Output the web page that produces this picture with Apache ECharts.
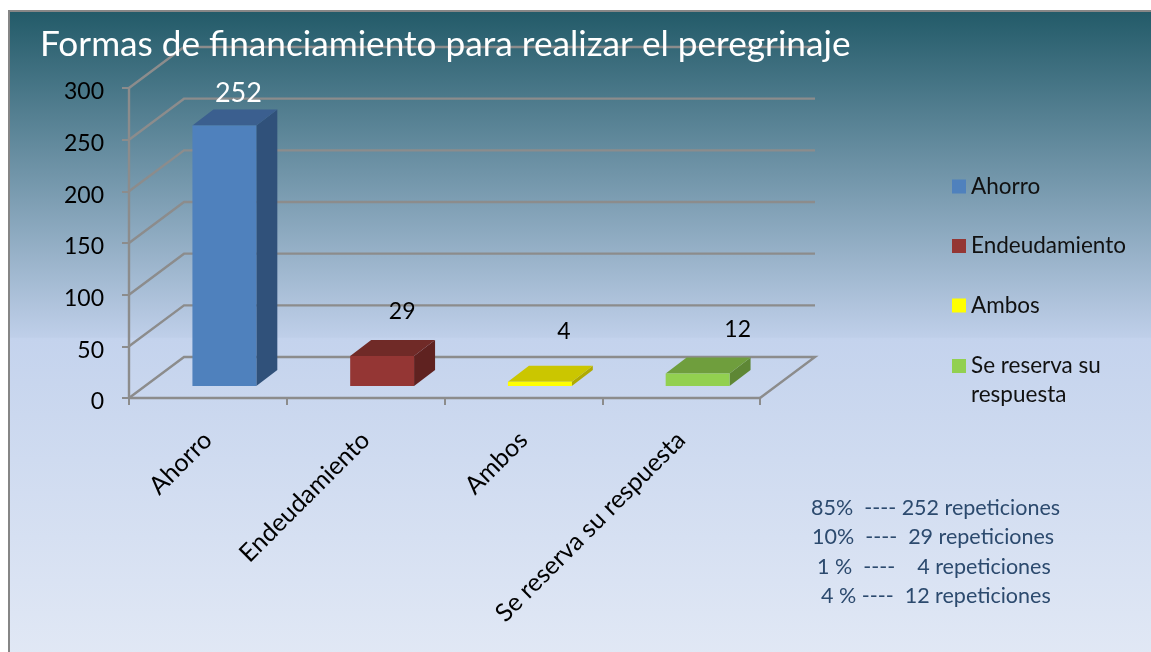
<!DOCTYPE html>
<html>
<head>
<meta charset="utf-8">
<title>Formas de financiamiento</title>
<script src="https://cdn.jsdelivr.net/npm/echarts@6/dist/echarts.min.js"></script>
<style>
html, body { margin: 0; padding: 0; background: #fff; }
#chart { width: 1151px; height: 652px; }
</style>
</head>
<body>
<div id="chart"></div>
<script>
// datos
var categorias = ['Ahorro', 'Endeudamiento', 'Ambos', 'Se reserva su respuesta'];
var valores = [252, 29, 4, 12];
var marcasEje = [0, 50, 100, 150, 200, 250, 300];
var lineasNota = [
    '85%  ---- 252 repeticiones',
    '10%  ----  29 repeticiones',
    '1 %  ----    4 repeticiones',
    '4 % ----  12 repeticiones'
];

// colores de cada barra: frente, tapa, lado
var coloresBarra = [
    ['#4f81bd', '#3b5f8f', '#30517a'],
    ['#943634', '#702a27', '#5f2220'],
    ['#ffff00', '#cbc600', '#b0aa00'],
    ['#92d050', '#6f9e3d', '#5e8735']
];
// ajuste manual de las etiquetas respecto al frente de la barra
var ajusteEtiqueta = [[14, -32], [20, -44], [24, -50], [40, -44]];
var colorEtiqueta = ['#ffffff', '#000000', '#000000', '#000000'];
var xNota = [811, 812, 817, 821];

var fuente = 'Lato, sans-serif';
var colorLinea = '#8c8c8c';
var fondoX = 9, fondoY = 11;
var profX = 55, profY = 41; // fondo de la pared
var barraX = 16.5, barraY = 12; // donde empieza la barra en la profundidad
var ladoX = 21, ladoY = 16; // grosor de la barra

var chart = echarts.init(document.getElementById('chart'));

function dibujaPared(params, api) {
    var valor = api.value(0);
    var c = params.coordSys;
    var y = api.coord([0, valor])[1];
    var puntos = [[c.x, y], [c.x + profX, y - profY], [c.x + c.width + profX, y - profY]];
    if (valor === 0) {
        puntos.push([c.x + c.width, y]);
    }
    return {
        type: 'polyline',
        shape: { points: puntos },
        style: { stroke: colorLinea, lineWidth: 2.4, fill: null }
    };
}

function dibujaBarra(params, api) {
    var i = api.value(0);
    var arriba = api.coord([i, api.value(1)]);
    var base = api.coord([i, 0]);
    var ancho = api.size([1, 0])[0] * 0.405;
    var x1 = arriba[0] + barraX - ancho / 2;
    var x2 = x1 + ancho;
    var y1 = arriba[1] - barraY;
    var y2 = base[1] - barraY;
    var col = coloresBarra[i];
    return {
        type: 'group',
        children: [
            { type: 'polygon', shape: { points: [[x2, y1], [x2 + ladoX, y1 - ladoY], [x2 + ladoX, y2 - ladoY], [x2, y2]] }, style: { fill: col[2] } },
            { type: 'polygon', shape: { points: [[x1, y1], [x1 + ladoX, y1 - ladoY], [x2 + ladoX, y1 - ladoY], [x2, y1]] }, style: { fill: col[1] } },
            { type: 'polygon', shape: { points: [[x1, y1], [x2, y1], [x2, y2], [x1, y2]] }, style: { fill: col[0] } },
            {
                type: 'text',
                style: {
                    text: String(api.value(1)),
                    x: arriba[0] + barraX + ajusteEtiqueta[i][0],
                    y: y1 + ajusteEtiqueta[i][1],
                    align: 'center',
                    verticalAlign: 'middle',
                    fill: colorEtiqueta[i],
                    font: (i === 0 ? 27 : 23) + 'px ' + fuente
                }
            }
        ]
    };
}

var series = [{
    name: 'pared',
    type: 'custom',
    silent: true,
    z: 1,
    renderItem: dibujaPared,
    data: marcasEje.map(function (m) { return [m]; }),
    encode: { y: 0 }
}];

categorias.forEach(function (nombre, i) {
    series.push({
        name: nombre,
        type: 'custom',
        z: 3,
        itemStyle: { color: coloresBarra[i][0] },
        renderItem: dibujaBarra,
        data: [[i, valores[i]]],
        encode: { x: 0, y: 1 }
    });
});

var notas = lineasNota.map(function (t, i) {
    return {
        type: 'text',
        z: 5,
        style: {
            text: t,
            x: xNota[i],
            y: 508 + i * 29.3,
            verticalAlign: 'middle',
            fill: '#2c4a6e',
            font: '21.5px ' + fuente
        }
    };
});

var option = {
    animation: false,
    title: {
        text: 'Formas de financiamiento para realizar el peregrinaje',
        left: 40,
        top: 27,
        padding: 0,
        textStyle: { color: '#fff', fontFamily: fuente, fontWeight: 'normal', fontSize: 35.2 }
    },
    grid: { left: 129, top: 88, width: 631, height: 310 },
    xAxis: {
        type: 'category',
        data: categorias,
        axisLine: { lineStyle: { color: colorLinea, width: 2.4 } },
        axisTick: { show: true, alignWithLabel: false, length: 7, lineStyle: { color: colorLinea, width: 2 } },
        axisLabel: { rotate: 45, interval: 0, margin: 38, color: '#000', fontFamily: fuente, fontSize: 25 }
    },
    yAxis: {
        type: 'value',
        min: 0,
        max: 300,
        interval: 50,
        axisLine: { show: true, lineStyle: { color: colorLinea, width: 2.4 } },
        axisTick: { show: true, length: 7, lineStyle: { color: colorLinea, width: 2 } },
        splitLine: { show: false },
        // los numeros van un poco por debajo de la marca
        axisLabel: { margin: 25, verticalAlign: 'top', lineHeight: 8, color: '#000', fontFamily: fuente, fontSize: 23 }
    },
    legend: [{
        orient: 'vertical',
        left: 952,
        top: 172,
        padding: 0,
        selectedMode: false,
        icon: 'rect',
        itemWidth: 14,
        itemHeight: 14,
        itemGap: 30.5,
        textStyle: { color: '#111', fontFamily: fuente, fontSize: 22.5, lineHeight: 29 },
        data: categorias.slice(0, 3)
    }, {
        orient: 'vertical',
        left: 952,
        top: 322.5,
        padding: 0,
        selectedMode: false,
        icon: 'rect',
        itemWidth: 14,
        itemHeight: 14,
        textStyle: { color: '#111', fontFamily: fuente, fontSize: 22.5, lineHeight: 29 },
        // la linea vacia deja el cuadro a la altura de la primera linea
        formatter: function () { return '\nSe reserva su\nrespuesta'; },
        data: categorias.slice(3)
    }],
    graphic: [{
        type: 'rect',
        z: -10,
        silent: true,
        shape: { x: fondoX, y: fondoY, width: 1151 - fondoX + 5, height: 652 - fondoY + 5 },
        style: {
            fill: new echarts.graphic.LinearGradient(0, 0, 0, 1, [
                { offset: 0, color: '#225a68' },
                { offset: 0.505, color: '#bfcfe9' },
                { offset: 0.507, color: '#c4d3ed' },
                { offset: 1, color: '#e1e8f5' }
            ]),
            stroke: '#868686',
            lineWidth: 2
        }
    }].concat(notas),
    series: series
};

chart.setOption(option);
</script>
</body>
</html>
